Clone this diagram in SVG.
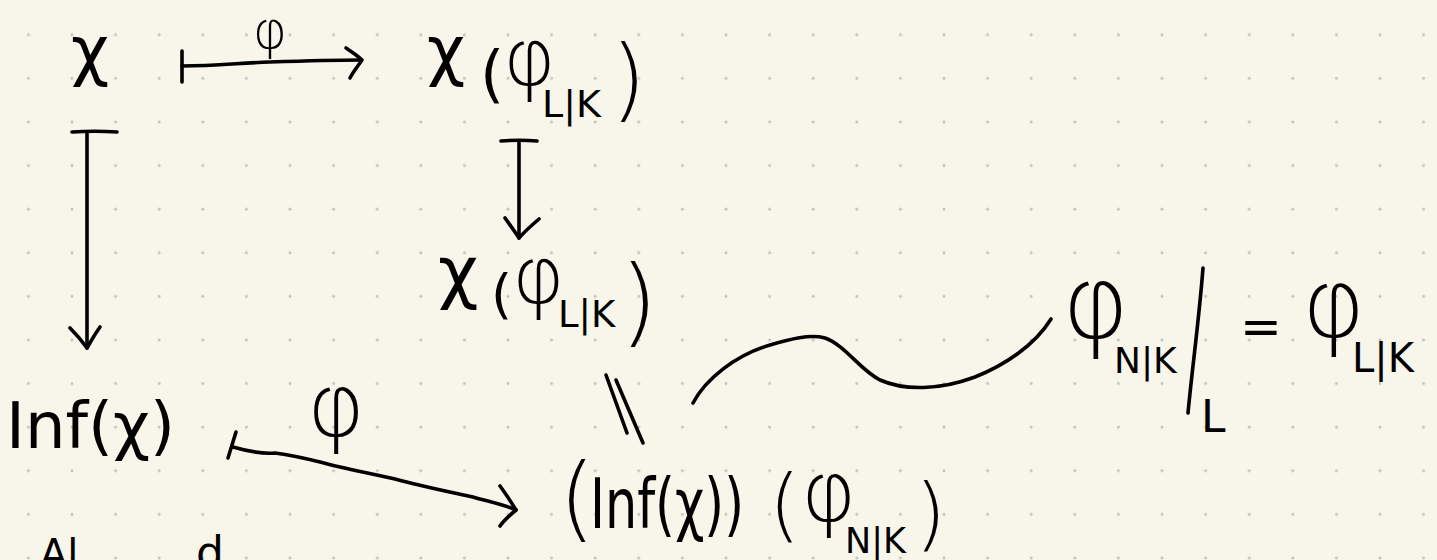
<svg xmlns="http://www.w3.org/2000/svg" width="1437" height="560" viewBox="0 0 1437 560">
<style>
.t{font-family:"DejaVu Sans","Liberation Sans",sans-serif;fill:#000;}
.l{font-weight:200;}
.m{text-anchor:middle;}
.s{fill:none;stroke:#000;stroke-width:3.6;stroke-linecap:round;stroke-linejoin:round;}
</style>
<defs>
<pattern id="dots" x="6.6" y="12.9" width="43.6" height="43.6" patternUnits="userSpaceOnUse">
<circle cx="21.8" cy="21.8" r="1.5" fill="#c2c1b9"/>
</pattern>
</defs>
<rect width="1437" height="560" fill="#f8f6ea"/>
<rect width="1437" height="560" fill="url(#dots)"/>

<g id="node-chi">
<text class="t m" x="90" y="73" font-size="66">χ</text>
</g>

<g id="node-chi-phi-LK-top">
<text class="t"><tspan x="427" y="73" font-size="66">χ</tspan><tspan x="480" y="95" font-size="62">(</tspan><tspan class="l" x="503" y="85" font-size="80">φ</tspan><tspan x="542" y="117" font-size="38">L|K</tspan><tspan class="l" x="611" y="110" font-size="90">)</tspan></text>
</g>

<g id="node-chi-phi-LK-mid">
<text class="t"><tspan x="438" y="296" font-size="70">χ</tspan><tspan x="491" y="313" font-size="54">(</tspan><tspan class="l" x="512" y="303" font-size="80">φ</tspan><tspan x="558" y="327" font-size="37">L|K</tspan><tspan class="l" x="620" y="334" font-size="97">)</tspan></text>
</g>

<g id="node-inf">
<text class="t" x="6" y="448" font-size="64">Inf(χ)</text>
</g>

<g id="node-inf-phi-NK">
<text class="t"><tspan class="l" x="559" y="530" font-size="92">(</tspan><tspan x="590" y="528" font-size="70" textLength="154" lengthAdjust="spacingAndGlyphs">Inf(χ))</tspan><tspan class="l" x="769" y="532" font-size="80">(</tspan><tspan class="l" x="801" y="521" font-size="84">φ</tspan><tspan x="845" y="553" font-size="35">N|K</tspan><tspan class="l" x="915" y="541" font-size="80">)</tspan></text>
</g>

<g id="node-restriction">
<text class="t"><tspan class="l" x="1062" y="338" font-size="102">φ</tspan><tspan x="1114" y="373" font-size="36">N|K</tspan></text>
<path class="s" d="M1203,268 C1199,320 1192,370 1188,413"/>
<text class="t" x="1201" y="432" font-size="44">L</text>
<text class="t m" x="1261" y="344" font-size="50">=</text>
<text class="t"><tspan class="l" x="1302" y="337" font-size="96">φ</tspan><tspan x="1352" y="372" font-size="40">L|K</tspan></text>
</g>

<g id="labels">
<text class="t m l" x="270" y="48" font-size="52">φ</text>
<text class="t m l" x="336" y="436" font-size="88">φ</text>
</g>

<g id="partial-text">
<text class="t" x="40" y="568" font-size="40">Al</text>
<text class="t" x="196" y="568" font-size="44">d</text>
</g>

<g id="connectors">
<path class="s" d="M182,51 L182,82"/>
<path class="s" d="M182,66 C215,66 240,63 270,62 C300,61 330,60 361,60"/>
<path class="s" d="M346,48 C352,52 358,56 362,60 C358,66 353,72 350,78"/>

<path class="s" d="M72,132 C88,131 102,131 117,132"/>
<path class="s" d="M87,133 L87,348"/>
<path class="s" d="M70,328 C76,334 82,341 87,348 C91,341 95,334 100,327"/>

<path class="s" d="M501,141 C513,140 525,140 537,141"/>
<path class="s" d="M519,141 L519,238"/>
<path class="s" d="M505,218 C510,225 515,232 519,238 C525,231 532,225 539,219"/>

<path class="s" d="M606,375 L627,433"/>
<path class="s" d="M616,380 L643,443"/>

<path class="s" d="M236,432 L228,458"/>
<path class="s" d="M233,447 C250,452 262,454 275,453 C290,455 300,457 320,462 C345,469 370,473 395,479 C420,486 450,492 473,497 C490,502 505,505 516,510"/>
<path class="s" d="M500,486 C506,494 511,502 516,510 C510,515 504,520 500,526"/>

<path class="s" d="M693,403 C705,380 735,355 770,345 C790,339 810,334 825,338 C845,345 860,370 880,380 C905,391 940,390 975,377 C1005,365 1035,345 1051,319"/>
</g>
</svg>
